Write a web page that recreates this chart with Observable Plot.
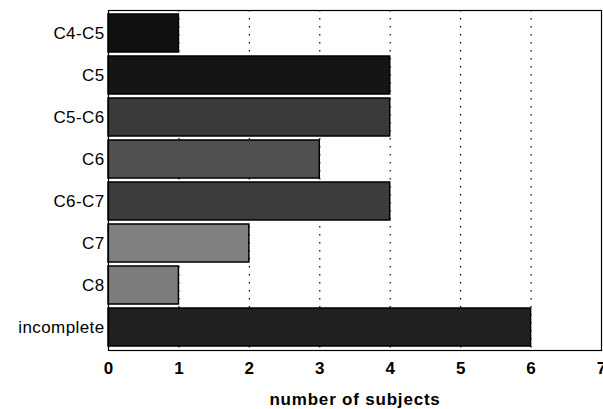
<!DOCTYPE html>
<html>
<head>
<meta charset="utf-8">
<script src="https://cdn.jsdelivr.net/npm/d3@7"></script>
<script src="https://cdn.jsdelivr.net/npm/@observablehq/plot@0.6"></script>
<style>
  html, body { margin: 0; padding: 0; background: #fff; }
  g[aria-label="y-axis tick label"] text { letter-spacing: 0.4px; }
  g[aria-label="x-axis label"] text { letter-spacing: 0.8px; }
</style>
</head>
<body>
<div id="chart"></div>
<script>
const categories = ["C4-C5", "C5", "C5-C6", "C6", "C6-C7", "C7", "C8", "incomplete"];
const subjects = [1, 4, 4, 3, 4, 2, 1, 6];
const xTicks = [0, 1, 2, 3, 4, 5, 6, 7];
const gridValues = [1, 2, 3, 4, 5, 6];
const shades = ["#111111", "#151515", "#3a3a3a", "#505050", "#3c3c3c", "#808080", "#7c7c7c", "#202020"];

const data = categories.map((c, i) => ({level: c, n: subjects[i]}));

const chart = Plot.plot({
  width: 603,
  height: 409,
  marginLeft: 108,
  marginRight: 2,
  marginTop: 10,
  marginBottom: 59,
  style: {fontFamily: "'Liberation Sans', Arial, Helvetica, sans-serif", fontSize: "17px", color: "black", background: "white"},
  x: {domain: [0, 7]},
  y: {domain: categories, paddingInner: 0.09, paddingOuter: 0},
  color: {domain: categories, range: shades},
  marks: [
    Plot.gridX(gridValues, {stroke: "black", strokeOpacity: 1, strokeDasharray: "1.5,6.5", strokeWidth: 1.2}),
    Plot.barX(data, {x: "n", y: "level", fill: "level", stroke: "black", strokeWidth: 1.5}),
    Plot.frame({stroke: "black", strokeWidth: 1.2}),
    Plot.axisY({tickSize: 0, tickPadding: 4, label: null, fontSize: 17}),
    Plot.axisX(xTicks, {tickSize: 0, tickPadding: 11, fontWeight: "bold", fontSize: 17,
      label: "number of subjects", labelAnchor: "center", labelArrow: "none", labelOffset: 54})
  ]
});
document.getElementById("chart").appendChild(chart);
</script>
</body>
</html>
